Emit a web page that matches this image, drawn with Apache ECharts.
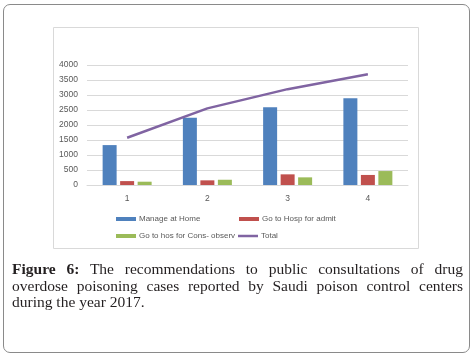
<!DOCTYPE html>
<html>
<head>
<meta charset="utf-8">
<script src="https://cdn.jsdelivr.net/npm/echarts@6/dist/echarts.min.js"></script>
<style>
  html, body { margin: 0; padding: 0; background: #fff; }
  #wrap { position: relative; width: 476px; height: 359px; overflow: hidden; }
  #charts { position: absolute; left: 0; top: 0; width: 476px; height: 359px; }
  #frame { position: absolute; left: 3px; top: 4px; width: 465px; height: 347px;
           border: 1.5px solid #8a8a8a; border-radius: 7px; pointer-events: none; }
  #caption { position: absolute; left: 12px; top: 261px; width: 451px;
             font-family: "Liberation Serif", "DejaVu Serif", serif; font-size: 15.5px;
             line-height: 16.5px; color: #231f20; }
  #caption div { text-align: justify; text-align-last: justify; white-space: nowrap; }
  #caption div.last { text-align-last: left; }
</style>
</head>
<body>
<div id="wrap">
  <div id="charts"></div>
  <div id="frame"></div>
  <div id="caption">
    <div><b>Figure 6:</b> The recommendations to public consultations of drug</div>
    <div>overdose poisoning cases reported by Saudi poison control centers</div>
    <div class="last">during the year 2017.</div>
  </div>
</div>
<script>
var categories = ['1', '2', '3', '4'];
var manageHome = [1330, 2245, 2590, 2890];
var hospAdmit = [130, 155, 355, 335];
var hospObserv = [110, 175, 255, 465];
var total = [1575, 2555, 3195, 3695];
var yTicks = [0, 500, 1000, 1500, 2000, 2500, 3000, 3500, 4000];

var txtColor = '#595959';
var fontFam = 'Liberation Sans';

function oneLegend(name, left, top, icon) {
    return {
        data: [name], left: left, top: top,
        itemWidth: 20, itemHeight: icon == 'line' ? 2.5 : 4, itemGap: 0,
        icon: 'rect',
        padding: 0,
        textStyle: { color: txtColor, fontSize: 8, fontFamily: fontFam, padding: [0, 0, 0, -2] }
    };
}

var myChart = echarts.init(document.getElementById('charts'));
var option = {
    animation: false,
    graphic: [{
        type: 'rect', silent: true,
        shape: { x: 53.5, y: 27.5, width: 365, height: 221 },
        style: { fill: 'none', stroke: '#d9d9d9', lineWidth: 1 }
    }],
    legend: [
        oneLegend('Manage at Home', 116, 215, 'bar'),
        oneLegend('Go to Hosp for admit', 239, 215, 'bar'),
        oneLegend('Go to hos for Cons- observ', 116, 232, 'bar'),
        oneLegend('Total', 238, 232, 'line')
    ],
    grid: { left: 87, right: 68, top: 65, bottom: 174 },
    xAxis: {
        type: 'category',
        data: categories,
        axisLine: { show: true, lineStyle: { color: '#d9d9d9', width: 1 } },
        axisTick: { show: false },
        axisLabel: { color: txtColor, fontSize: 8.5, fontFamily: fontFam, margin: 9 }
    },
    yAxis: {
        type: 'value',
        min: yTicks[0],
        max: yTicks[yTicks.length - 1],
        interval: 500,
        axisLine: { show: false },
        axisTick: { show: false },
        splitLine: { lineStyle: { color: '#d9d9d9', width: 1 } },
        axisLabel: {
            color: txtColor, fontSize: 8.5, fontFamily: fontFam, margin: 9,
            formatter: function (v) { return String(v); }
        }
    },
    series: [
        {
            name: 'Manage at Home', type: 'bar', data: manageHome,
            barWidth: 14, barGap: '25%',
            itemStyle: { color: '#4f81bd' }
        },
        {
            name: 'Go to Hosp for admit', type: 'bar', data: hospAdmit,
            barWidth: 14,
            itemStyle: { color: '#c0504d' }
        },
        {
            name: 'Go to hos for Cons- observ', type: 'bar', data: hospObserv,
            barWidth: 14,
            itemStyle: { color: '#9bbb59' }
        },
        {
            name: 'Total', type: 'line', data: total,
            symbol: 'none',
            lineStyle: { color: '#8064a2', width: 2.5 },
            itemStyle: { color: '#8064a2' }
        }
    ]
};
myChart.setOption(option);
</script>
</body>
</html>
